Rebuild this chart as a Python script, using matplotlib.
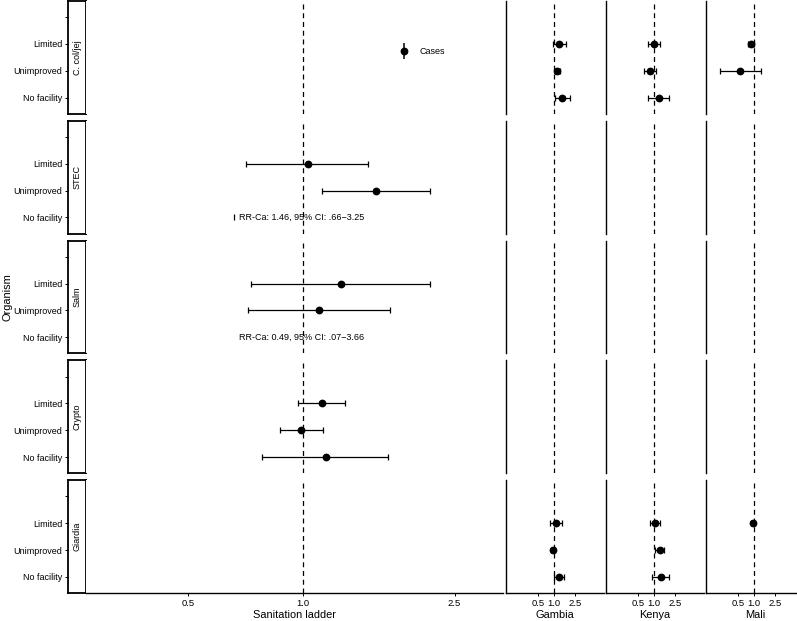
import numpy as np
import matplotlib
matplotlib.use("Agg")
import matplotlib.pyplot as plt
from matplotlib.lines import Line2D
from matplotlib.legend_handler import HandlerTuple

plt.rcParams["font.family"] = ["Liberation Sans", "DejaVu Sans"]

nan = np.nan

organisms = ["C. col/jej", "STEC", "Salm", "Crypto", "Giardia"]
# y positions 1..3 = No facility, Unimproved, Limited; 4 is an empty category
levels = ["No facility", "Unimproved", "Limited", ""]

# Sanitation ladder (pooled) estimates: rows = organism, cols = No facility, Unimproved, Limited
ladder_est = [[nan, nan, nan], [nan, 1.56, 1.03], [nan, 1.10, 1.26], [1.15, 0.99, 1.12], [nan, nan, nan]]
ladder_lo = [[nan, nan, nan], [nan, 1.12, 0.71], [nan, 0.72, 0.73], [0.78, 0.87, 0.97], [nan, nan, nan]]
ladder_hi = [[nan, nan, nan], [nan, 2.15, 1.48], [nan, 1.69, 2.15], [1.67, 1.13, 1.29], [nan, nan, nan]]

# notes for categories without a plotted estimate
note_org = ["STEC", "Salm"]
note_text = ["RR-Ca: 1.46, 95% CI: .66\u22123.25", "RR-Ca: 0.49, 95% CI: .07\u22123.66"]
note_x = 0.68
stec_nofac_cap = 0.66

countries = ["Gambia", "Kenya", "Mali"]
# country estimates: [country][organism][level]
country_est = [
    [[1.42, 1.15, 1.25], [nan] * 3, [nan] * 3, [nan] * 3, [1.24, 0.94, 1.10]],
    [[1.22, 0.84, 0.98], [nan] * 3, [nan] * 3, [nan] * 3, [1.33, 1.29, 1.04]],
    [[nan, 0.53, 0.87], [nan] * 3, [nan] * 3, [nan] * 3, [nan, nan, 0.96]],
]
country_lo = [
    [[1.03, 1.04, 0.96], [nan] * 3, [nan] * 3, [nan] * 3, [1.00, 0.87, 0.85]],
    [[0.76, 0.64, 0.75], [nan] * 3, [nan] * 3, [nan] * 3, [0.93, 1.04, 0.84]],
    [[nan, 0.22, 0.75], [nan] * 3, [nan] * 3, [nan] * 3, [nan, nan, 0.87]],
]
country_hi = [
    [[2.03, 1.29, 1.69], [nan] * 3, [nan] * 3, [nan] * 3, [1.55, 1.03, 1.40]],
    [[1.92, 1.10, 1.31], [nan] * 3, [nan] * 3, [nan] * 3, [1.92, 1.57, 1.31]],
    [[nan, 1.37, 1.00], [nan] * 3, [nan] * 3, [nan] * 3, [nan, nan, 1.06]],
]

x_ticks = [0.5, 1.0, 2.5]

W, H = 797, 621
fig = plt.figure(figsize=(W / 100, H / 100), dpi=100)

small = 6.5
title = 7.9


def fax(x0, y0, w, h):
    # pixel box (top-left origin) -> figure axes
    return fig.add_axes([x0 / W, 1 - (y0 + h) / H, w / W, h / H])


def draw_points(ax, est, lo, hi):
    y = np.arange(1, 4)
    est = np.asarray(est, float)
    lo = np.asarray(lo, float)
    hi = np.asarray(hi, float)
    ok = ~np.isnan(est)
    if ok.any():
        ax.errorbar(est[ok], y[ok], xerr=[est[ok] - lo[ok], hi[ok] - est[ok]],
                    fmt="o", color="black", ms=4.6, lw=0.9, capsize=1.9,
                    capthick=0.9, zorder=3)


row_h = 112.8
col_x = [506, 606, 706]
col_w = 97.5
ylim = (0.4, 4.6)
lw_axis = 1.0

main_axes = []
for i, org in enumerate(organisms):
    top = 1 + 119.8 * i
    last = i == len(organisms) - 1

    # strip with y tick labels
    sax = fax(68, top, 18, row_h)
    sax.set_xlim(0, 1)
    sax.set_ylim(*ylim)
    sax.set_xticks([])
    sax.set_yticks([1, 2, 3, 4])
    sax.set_yticklabels(levels, fontsize=small)
    sax.tick_params(axis="y", length=2.5, width=0.7, pad=1.5)
    for sp in sax.spines.values():
        sp.set_linewidth(1.3)
    sax.text(0.5, 0.5, org, rotation=90, ha="center", va="center",
             fontsize=small, transform=sax.transAxes)

    # pooled sanitation ladder panel
    ax = fax(86, top, 417, row_h)
    ax.set_xscale("log")
    ax.set_xlim(0.27, 3.35)
    ax.set_ylim(*ylim)
    ax.axvline(1.0, color="black", lw=0.9, ls=(0, (4, 3)), zorder=1)
    draw_points(ax, ladder_est[i], ladder_lo[i], ladder_hi[i])
    if org in note_org:
        ax.text(note_x, 1, note_text[note_org.index(org)], fontsize=small,
                ha="left", va="center")
    if org == "STEC":
        ax.plot([stec_nofac_cap], [1], marker="|", ms=5, mew=0.9,
                color="black", ls="None")
    ax.set_yticks([])
    for s in ["top", "right", "left"]:
        ax.spines[s].set_visible(False)
    ax.spines["bottom"].set_linewidth(lw_axis)
    ax.set_xticks(x_ticks)
    ax.minorticks_off()
    if last:
        ax.set_xticklabels(["0.5", "1.0", "2.5"], fontsize=6.8)
        ax.tick_params(axis="x", length=2.5, width=0.7, pad=2)
        ax.set_xlabel("Sanitation ladder", fontsize=title, labelpad=1)
    else:
        ax.spines["bottom"].set_visible(False)
        ax.set_xticks([])
    main_axes.append(ax)

    # country panels
    for c, cname in enumerate(countries):
        cax = fax(col_x[c], top, col_w, row_h)
        cax.set_xscale("log")
        cax.set_xlim(0.12, 8.8)
        cax.set_ylim(*ylim)
        cax.axvline(1.0, color="black", lw=0.9, ls=(0, (4, 3)), zorder=1)
        draw_points(cax, country_est[c][i], country_lo[c][i], country_hi[c][i])
        cax.set_yticks([])
        for s in ["top", "right"]:
            cax.spines[s].set_visible(False)
        cax.spines["left"].set_linewidth(lw_axis)
        cax.spines["bottom"].set_linewidth(lw_axis)
        cax.set_xticks(x_ticks)
        cax.minorticks_off()
        if last:
            cax.set_xticklabels(["0.5", "1.0", "2.5"], fontsize=6.8)
            cax.tick_params(axis="x", length=2.5, width=0.7, pad=2)
            cax.set_xlabel(cname, fontsize=title, labelpad=1)
        else:
            cax.spines["bottom"].set_visible(False)
            cax.set_xticks([])

# legend inside the top pooled panel
vbar = Line2D([], [], marker="|", ms=11, mew=1.1, color="black", ls="None")
dot = Line2D([], [], marker="o", ms=4.6, color="black", ls="None")
main_axes[0].legend([(vbar, dot)], ["Cases"], handler_map={tuple: HandlerTuple(ndivide=1)},
                    loc="center left", bbox_to_anchor=((399 - 86) / 417, 0.55),
                    frameon=False, fontsize=small, handlelength=1.0, handletextpad=1.3,
                    borderpad=0, borderaxespad=0)

fig.text(8 / W, 1 - 297 / H, "Organism", rotation=90, ha="center", va="center", fontsize=title)

fig.savefig("out.png", dpi=100)
